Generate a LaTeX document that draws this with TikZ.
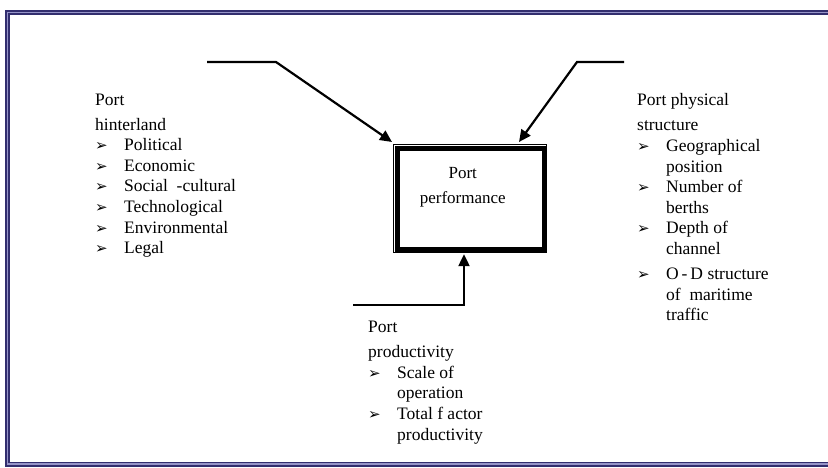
\documentclass[tikz,border=0pt]{standalone}
\usepackage{fontspec}
\setmainfont{Liberation Serif}
\newfontfamily\bulfont{DejaVu Sans}
\usetikzlibrary{arrows.meta,calc}
\definecolor{framenavy}{RGB}{50,46,110}
\definecolor{framelight}{RGB}{150,148,200}
\newcommand\itm[1]{\makebox[29pt][l]{\bulfont\fontsize{15}{15}\selectfont ➢}#1}
\newcommand\cont[1]{\hspace*{29pt}#1}
\tikzset{
  listtext/.style={anchor=north west, inner sep=0pt, align=left, font=\fontsize{17.5}{20.6}\selectfont},
  feed/.style={line width=2.2pt, -{Triangle[length=12pt,width=11pt]}},
  perfbox/.style={draw, line width=5pt, outer sep=0pt, inner sep=0pt, minimum width=146.5pt, minimum height=100.2pt},
}

\begin{document}
\begin{tikzpicture}[x=1pt,y=-1pt]
		%%%%% START %%%%%
		\useasboundingbox (0,0) rectangle (828,468);
		
		\draw[framenavy, line width=1.7pt, double=framelight, double distance=1.6pt] (840,12.5) -- (7.5,12.5) -- (7.5,464) -- (840,464);
		
		% port performance box
		\node[perfbox] (perf) at (470.75,199.1) {};
		\draw[line width=1pt] ($(perf.north west)+(-4,-4)$) rectangle ($(perf.south east)+(2.8,3.3)$);
		\node[font=\fontsize{17}{25}\selectfont, align=center, inner sep=0pt] (perftxt) at ($(perf.north)+(-8,38)$) {Port\\performance};
		
		% arrows
		\coordinate (hinA) at (207,62);
		\coordinate (hinB) at (276,62);
		\draw[feed] (hinA) -- (hinB) -- ($(perf.north west)+(-5.5,-7)$);
		
		\coordinate (phyA) at (624,62);
		\coordinate (phyB) at (577,62);
		\draw[feed] (phyA) -- (phyB) -- ($(perf.north)+(48.25,-7)$);
		
		\coordinate (prodA) at (353,305);
		\coordinate (prodB) at (464,305);
		\draw[feed] (prodA) -- (prodB) -- ($(prodB |- perf.south)+(0,5)$);
		
		% lists
		\node[listtext] (hinter) at (95,93.5) {Port\\[4.4pt]hinterland\\\itm{Political}\\\itm{Economic}\\\itm{Social \ -cultural}\\\itm{Technological}\\\itm{Environmental}\\\itm{Legal}};
		
		\node[listtext] (physical) at (637,93.5) {Port physical\\[4.4pt]structure\\\itm{Geographical}\\\cont{position}\\\itm{Number of}\\\cont{berths}\\\itm{Depth of}\\\cont{channel}\\[4.4pt]\itm{O\,-\,D structure}\\\cont{of\ \ maritime}\\\cont{traffic}};
		
		\node[listtext] (prod) at (368,321) {Port\\[4.4pt]productivity\\\itm{Scale of}\\\cont{operation}\\\itm{Total f\ actor}\\\cont{productivity}};
		
		%%%%% END %%%%%
\end{tikzpicture}
\end{document}
